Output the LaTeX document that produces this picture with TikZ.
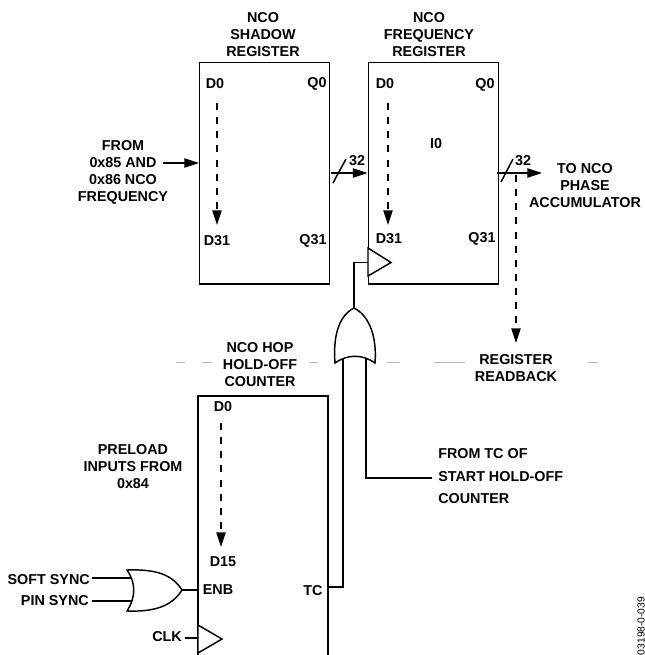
\documentclass[tikz,border=0pt]{standalone}
\usepackage{fontspec}
\setmainfont{Liberation Sans}
\usetikzlibrary{arrows.meta, positioning, calc}
\definecolor{adigray}{gray}{0.72}
\tikzset{
  every node/.style={font=\fontsize{10.8}{12.8}\selectfont\bfseries, text=black},
  caption/.style={align=center, inner sep=0pt},
  regbox/.style={draw, line width=1.1pt, minimum width=97.5bp, minimum height=166bp, inner sep=0pt},
  arrow/.style={-{Triangle[length=11bp, width=7bp]}, line width=0.9pt},
  shiftarrow/.style={-{Triangle[length=11bp, width=7bp]}, line width=1pt, dash pattern=on 5.3bp off 5.3bp},
  wire/.style={line width=0.9pt},
  gate/.style={line width=1.1pt, fill=white, line join=miter},
  slash/.style={line width=1.1pt},
  sep/.style={adigray, line width=0.6pt}
}

\begin{document}
\begin{tikzpicture}[x=0.75bp, y=-0.75bp]
    \useasboundingbox (0,0) rectangle (645,655);

    % registers
    \node[regbox, anchor=north west] (shadow) at (199,62) {};
    \node[regbox, anchor=north west] (freq) at (367.5,62) {};
    \coordinate (cntsw) at (198,655);
    \coordinate (cntse) at (328,655);
    \coordinate (cntnw) at (198,396);
    \coordinate (cntne) at (328,396);
    \draw[line width=1.1pt] (cntsw) -- (cntnw) -- (cntne) -- (cntse);

    % separator
    \foreach \a/\b in {176/185, 202/212, 309/318, 387/400, 434/465, 588/598}
        \draw[sep] (\a,362) -- (\b,362);

    % titles
    \node[caption] (shadowtitle) at (263,35) {NCO\\SHADOW\\REGISTER};
    \node[caption] (freqtitle) at (429,35) {NCO\\FREQUENCY\\REGISTER};
    \node[caption] (cnttitle) at (260,365) {NCO HOP\\HOLD-OFF\\COUNTER};
    \node[caption] (from) at (123,172) {FROM\\0x85 AND\\0x86 NCO\\FREQUENCY};
    \node[caption] (topa) at (585,186) {TO NCO\\PHASE\\ACCUMULATOR};
    \node[caption] (readback) at (516,368.5) {REGISTER\\READBACK};
    \node[caption] (preload) at (133,467) {PRELOAD\\INPUTS FROM\\0x84};

    % register pins
    \node[caption] (sd0) at (215,84) {D0};
    \node[caption] (sq0) at (317,84) {Q0};
    \node[caption] (sd31) at (217,241) {D31};
    \node[caption] (sq31) at (313,241) {Q31};
    \node[caption] (fd0) at (385,84) {D0};
    \node[caption] (fq0) at (485,85) {Q0};
    \node[caption] (fd31) at (389,239) {D31};
    \node[caption] (fq31) at (482,239) {Q31};
    \node[caption] (i0) at (436,144) {I0};
    \node[caption] (cd0) at (223,407) {D0};
    \node[caption] (cd15) at (223,562) {D15};
    \node[caption] (enb) at (218,590) {ENB};
    \node[caption] (tc) at (313,591) {TC};
    \node[caption] (clk) at (167,637) {CLK};
    \node[caption, anchor=east] (soft) at (90,580) {SOFT SYNC};
    \node[caption, anchor=east] (pin) at (89,601) {PIN SYNC};

    % dashed shifts
    \draw[shiftarrow] (217,103) -- (217,225);
    \draw[shiftarrow] (388,103) -- (388,225);
    \draw[shiftarrow] (221,423) -- (221,547);

    % buses
    \coordinate (sout) at (331,173);
    \coordinate (fout) at (497,173);
    \draw[arrow] (sout) -- (freq.west |- sout);
    \draw[arrow] (fout) -- (542,173);
    \draw[slash] (333,183) -- (346,159);
    \draw[slash] (501,182) -- (513,159);
    \node[caption] (bus1) at (357,161) {32};
    \node[caption] (bus2) at (523,161) {32};
    \draw[shiftarrow] (516,175) -- (516,343);
    \draw[arrow] (163,163) -- (shadow.west |- 0,163);

    % clock and or gate on top
    \coordinate (clka) at (368,248);
    \coordinate (clkb) at (391,262.5);
    \coordinate (clkc) at (368,276);
    \draw[gate] (clka) -- (clkb) -- (clkc) -- cycle;
    \coordinate (orout) at (354,308);
    \draw[wire] (orout) |- (368,262.5);
    \coordinate (orl) at (335,363);
    \coordinate (orr) at (375,363);
    \draw[gate] (orl) .. controls (333,338) and (338,316) .. (orout)
        .. controls (370,316) and (377,338) .. (orr)
        .. controls (362,354) and (348,354) .. cycle;
    \draw[wire] (343,358) -- (343,587) -- (cntne |- 0,587);
    \draw[wire] (366,358) -- (366,478) -- (432,478);
    \node[caption, anchor=west] (froma) at (438,454) {FROM TC OF};
    \node[caption, anchor=west] (fromb) at (438,477) {START HOLD-OFF};
    \node[caption, anchor=west] (fromc) at (438,499) {COUNTER};

    % sync gate
    \coordinate (syncout) at (182,590);
    \draw[wire] (92,578) -- (131,578);
    \draw[wire] (92,601) -- (131,601);
    \draw[gate] (127,570) .. controls (155,569) and (172,574) .. (syncout)
        .. controls (172,606) and (155,612) .. (127,611)
        .. controls (136,597) and (136,583) .. cycle;
    \draw[wire] (syncout) -- (cntnw |- syncout);

    % clk input
    \draw[gate] (198,625) -- (222,639) -- (198,653) -- cycle;
    \draw[wire] (185,638) -- (198,638);

    % part number
    \node[caption, rotate=90, font=\fontsize{7.7}{9}\selectfont] (part) at (641,626) {03198-0-039};
\end{tikzpicture}
\end{document}
